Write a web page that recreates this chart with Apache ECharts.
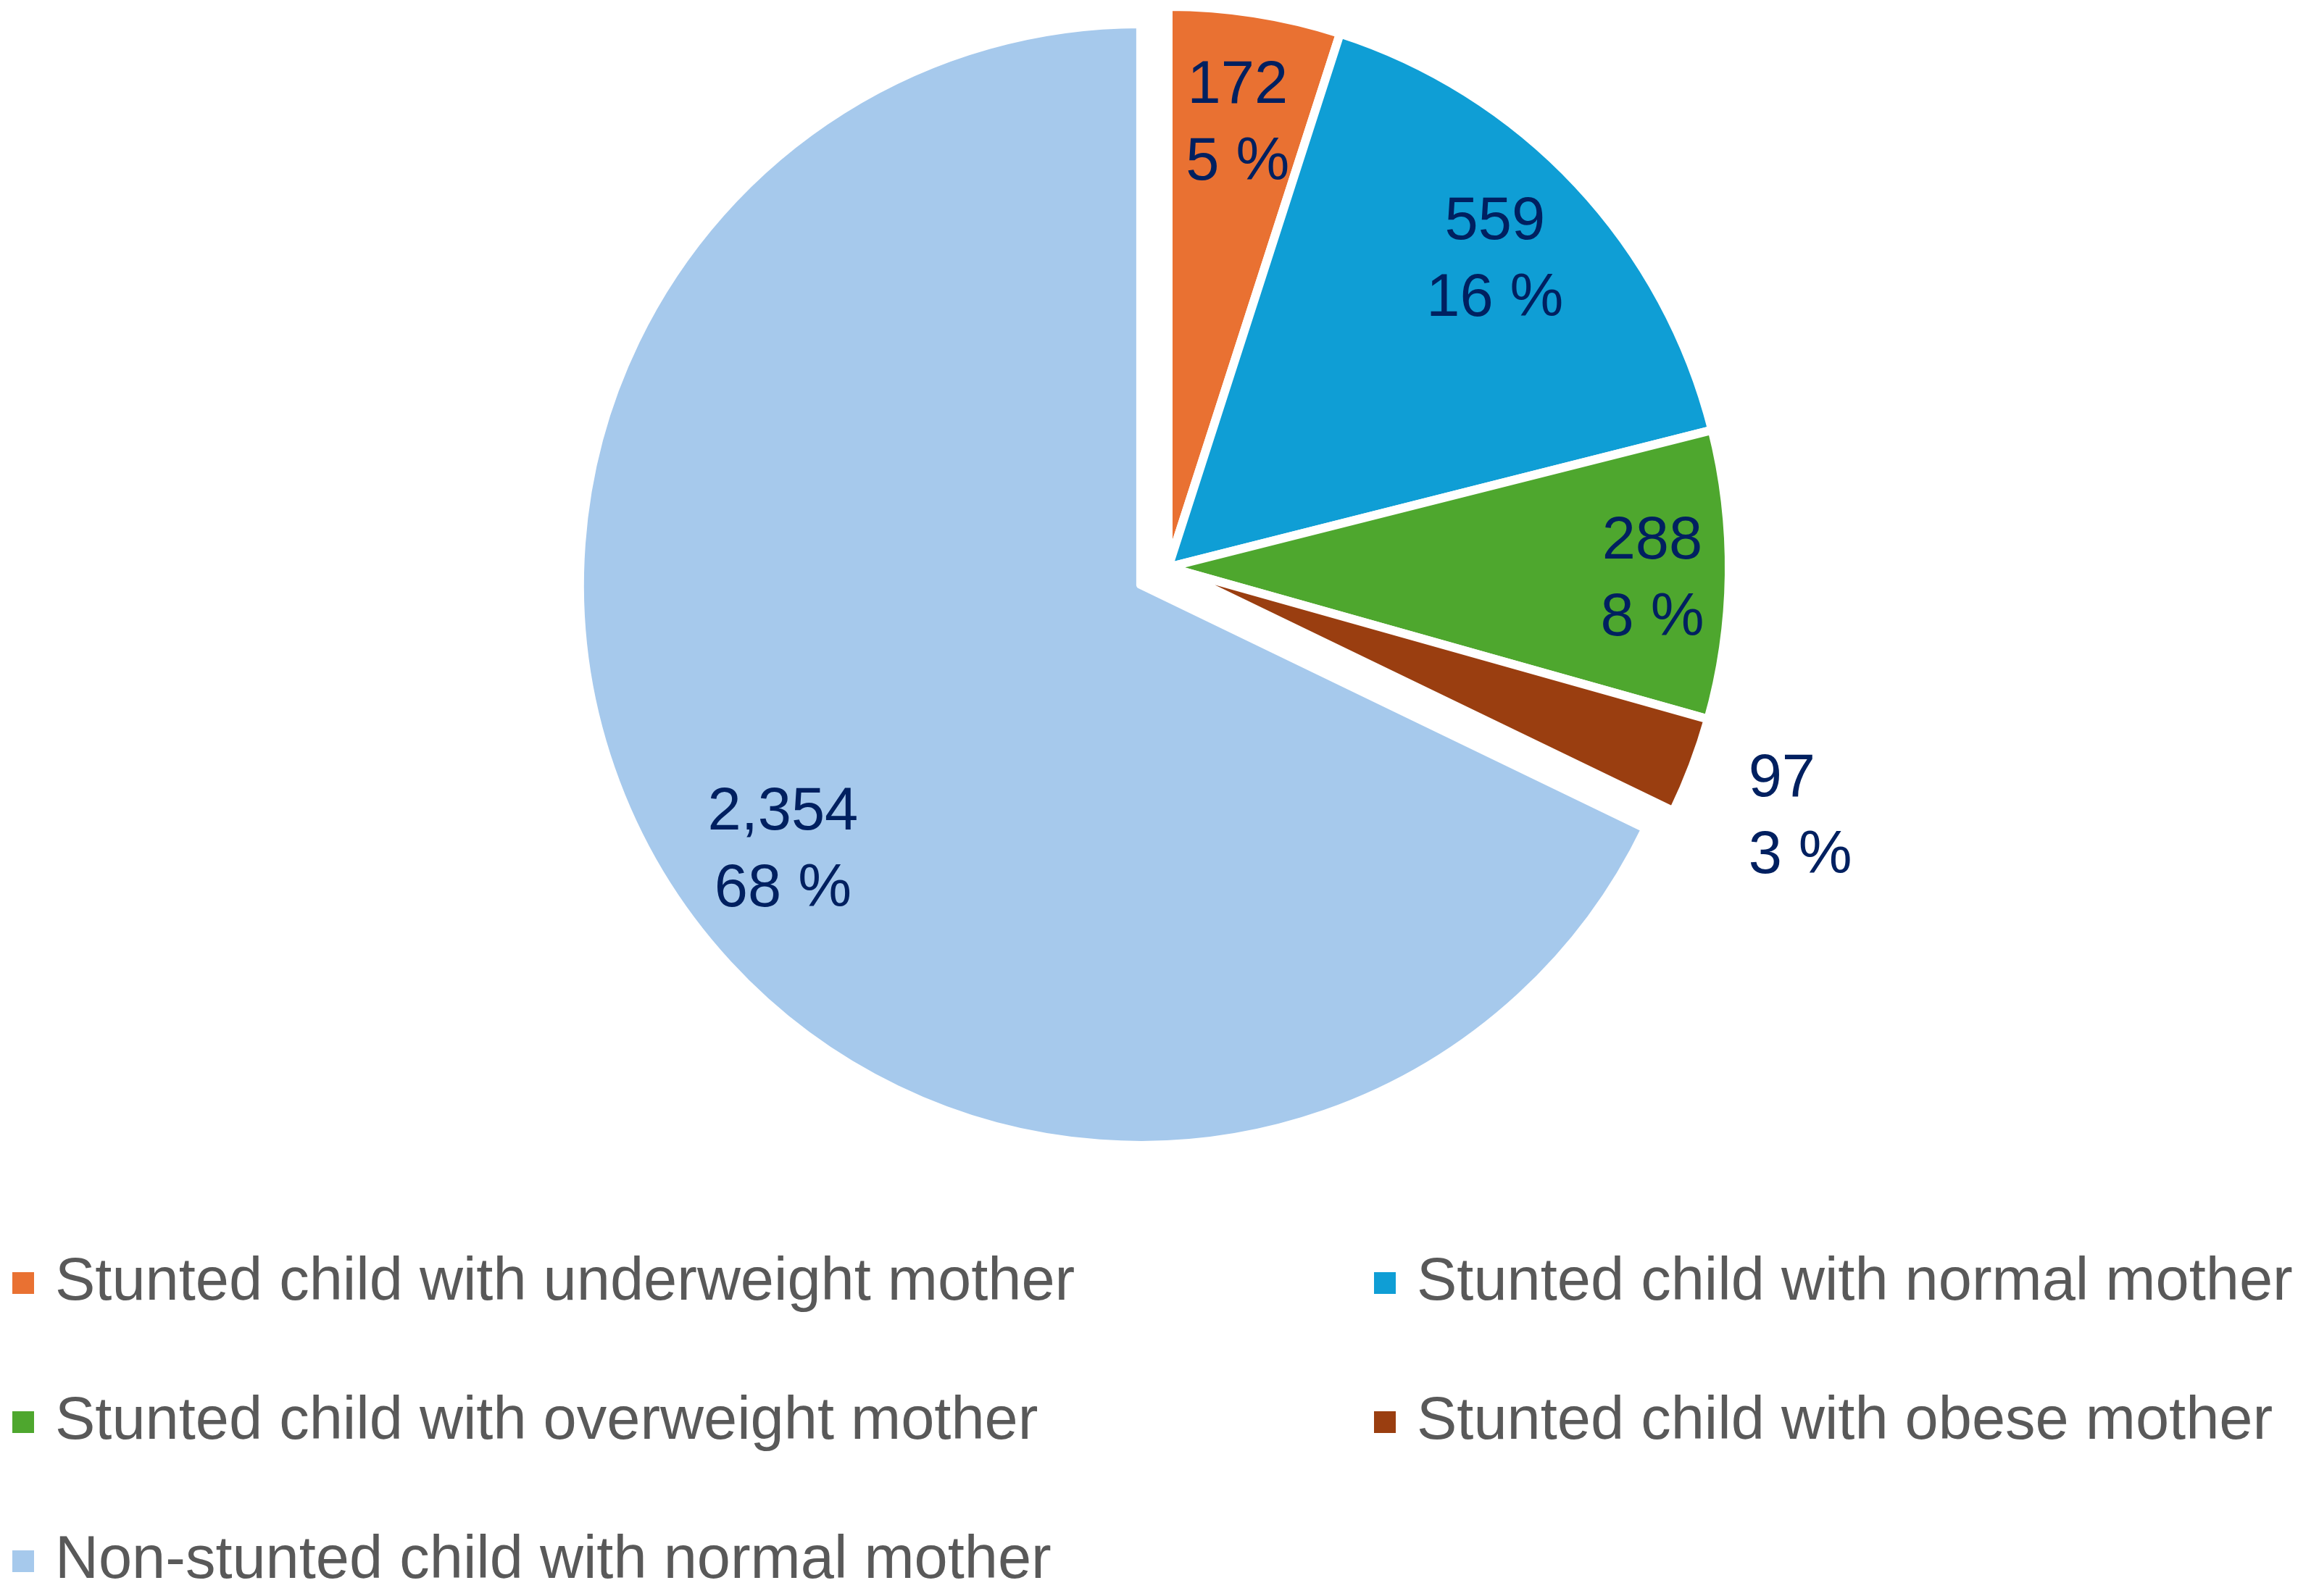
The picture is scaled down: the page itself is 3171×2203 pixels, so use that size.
<!DOCTYPE html>
<html>
<head>
<meta charset="utf-8">
<script src="https://cdn.jsdelivr.net/npm/echarts@6/dist/echarts.min.js"></script>
<style>
html, body { margin: 0; padding: 0; background: #fff; }
#main { width: 3171px; height: 2203px; }
</style>
</head>
<body>
<div id="main"></div>
<script>
var names = [
   'Stunted child with underweight mother',
   'Stunted child with normal mother',
   'Stunted child with overweight mother',
   'Stunted child with obese mother',
   'Non-stunted child with normal mother'
];
var counts = [172, 559, 288, 97, 2354];
var colors = ['#E97132', '#0F9ED5', '#4EA72E', '#9A3E10', '#A6C9EC'];
var explodedIndex = 4;      // only the big slice is pulled out
var outsideLabelIndex = 3;  // obese label sits outside the pie
var legendCol1 = [names[0], names[2], names[4]];
var legendCol2 = [names[1], names[3]];

var chart = echarts.init(document.getElementById('main'));

var pieData = counts.map(function (v, i) {
   return { name: names[i], value: v, selected: i == explodedIndex, itemStyle: { color: colors[i] } };
});
var labelData = counts.map(function (v, i) {
   var item = { name: names[i], value: v, selected: i == explodedIndex };
   if (i == outsideLabelIndex) item.label = { position: 'outside' };
   // small nudges, excel "best fit" puts these a bit off the bisector
   if (i == 2) item.label = { offset: [50, 10] };
   if (i == 4) {
      item.label = { offset: [30, 40] };
      item.select = { label: { offset: [30, 40] } };
   }
   return item;
});

var legendText = {
   fontFamily: 'Liberation Sans',
   fontSize: 83,
   lineHeight: 84,
   color: '#595959',
   padding: [0, 0, 0, 23]
};

chart.setOption({
   backgroundColor: '#fff',
   animation: false,
   legend: [
      {
         orient: 'vertical', left: 10, top: 1724, itemGap: 108,
         itemWidth: 32, itemHeight: 32, icon: 'rect',
         textStyle: legendText, data: legendCol1
      },
      {
         orient: 'vertical', left: 1889, top: 1724, itemGap: 108,
         itemWidth: 32, itemHeight: 32, icon: 'rect',
         textStyle: legendText, data: legendCol2
      }
   ],
   series: [
      {
         type: 'pie',
         center: [1612, 783],
         radius: 774,
         startAngle: 90,
         selectedMode: 'multiple',
         selectedOffset: 45,
         itemStyle: { borderColor: '#fff', borderWidth: 12 },
         label: { show: false },
         labelLine: { show: false },
         emphasis: { disabled: true },
         data: pieData
      },
      {
         // transparent copy, only used to place the labels further out
         type: 'pie',
         center: [1612, 783],
         radius: [456, 774],
         startAngle: 90,
         silent: true,
         selectedMode: 'multiple',
         selectedOffset: 45,
         avoidLabelOverlap: false,
         itemStyle: { color: 'rgba(0,0,0,0)', borderWidth: 0 },
         label: {
            show: true,
            position: 'inside',
            color: '#002060',
            fontFamily: 'Liberation Sans',
            fontSize: 83,
            lineHeight: 106,
            formatter: function (p) {
               return echarts.format.addCommas(p.value) + '\n' + Math.round(p.percent) + ' %';
            }
         },
         labelLine: { show: false, length: 203, length2: -118 },
         emphasis: { disabled: true },
         data: labelData
      }
   ]
});
</script>
</body>
</html>
